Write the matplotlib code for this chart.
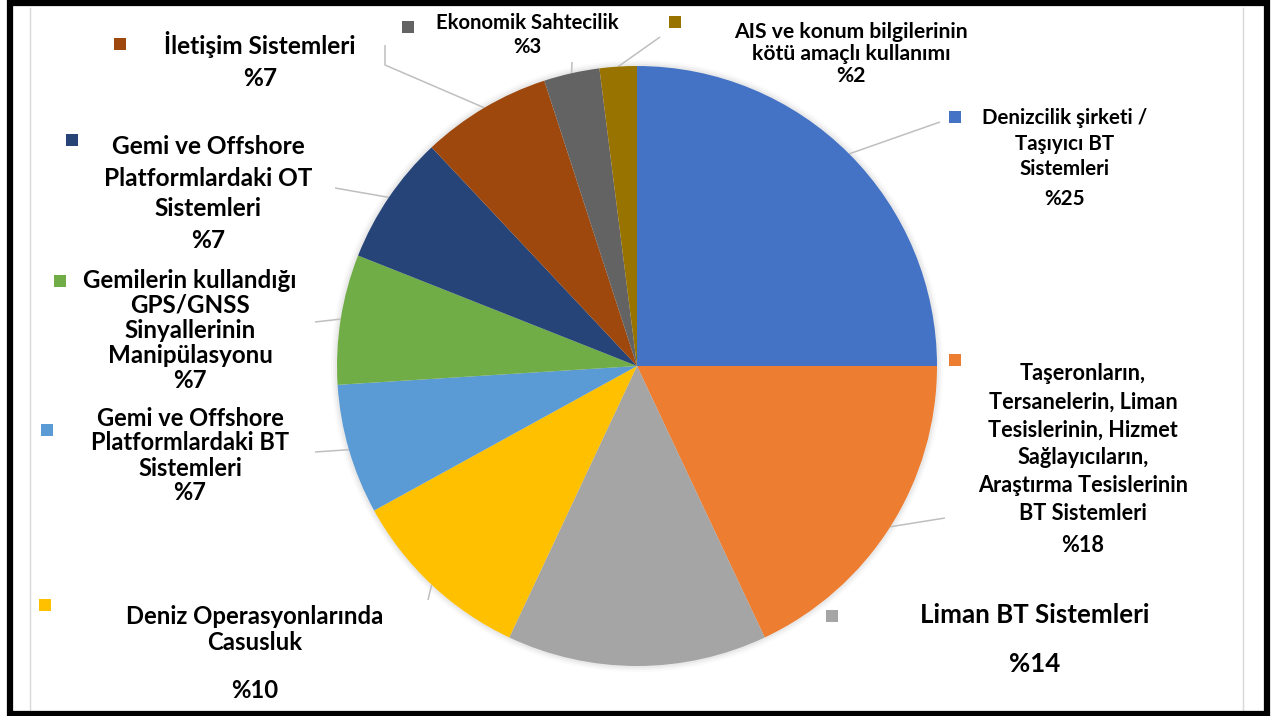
import numpy as np
import matplotlib
matplotlib.use("Agg")
import matplotlib.pyplot as plt
from matplotlib.patches import Rectangle, Circle

plt.rcParams["font.family"] = ["Lato", "DejaVu Sans"]

# slice data, clockwise from 12 o'clock
names = [
    "Denizcilik şirketi /\nTaşıyıcı BT\nSistemleri",
    "Taşeronların,\nTersanelerin, Liman\nTesislerinin, Hizmet\nSağlayıcıların,\nAraştırma Tesislerinin\nBT Sistemleri",
    "Liman BT Sistemleri",
    "Deniz Operasyonlarında\nCasusluk",
    "Gemi ve Offshore\nPlatformlardaki BT\nSistemleri",
    "Gemilerin kullandığı\nGPS/GNSS\nSinyallerinin\nManipülasyonu",
    "Gemi ve Offshore\nPlatformlardaki OT\nSistemleri",
    "İletişim Sistemleri",
    "Ekonomik Sahtecilik",
    "AIS ve konum bilgilerinin\nkötü amaçlı kullanımı",
]
values = [25, 18, 14, 10, 7, 7, 7, 7, 3, 2]
colors = ["#4472C4", "#ED7D31", "#A5A5A5", "#FFC000", "#5B9BD5",
          "#70AD47", "#264478", "#9E480E", "#636363", "#997300"]

# label layout in pixel coords: centre x, first line y, line step, percent y, font size
label_x = [1065, 1083, 1035, 255, 190, 190, 208, 260, 527, 851]
label_y0 = [118, 374, 615, 617, 418, 280, 147, 44, 23, 32]
label_step = [25.5, 28, 0, 25, 25, 25.3, 31, 0, 0, 22]
pct_y = [199, 545, 664, 690, 493, 381, 240, 78, 47, 76]
font_sz = [14.8, 15.6, 18.6, 17.2, 17, 17.4, 17.6, 17.6, 14.6, 15.2]
marker_xy = [(955, 117), (955, 360), (832, 616), (45, 605), (47, 430),
             (60, 281), (72, 140), (120, 44), (408, 27), (675, 22)]
# leader line ends (beyond the wedge edge point)
leader_pts = [
    [(940, 122)],
    [(945, 518)],
    None,
    [(428, 600)],
    [(315, 452)],
    [(315, 322)],
    [(335, 188)],
    [(385, 65), (385, 45)],
    [(572, 62)],
    [(660, 37)],
]

W, H = 1271, 716
cx, cy, R = 637, 366, 300

fig = plt.figure(figsize=(W / 100, H / 100), dpi=100)
ax = fig.add_axes([0, 0, 1, 1])

# soft edge around the pie
for dr, a in [(6, 0.04), (4, 0.06), (2, 0.08)]:
    ax.add_patch(Circle((cx, cy), R + dr, color="#808080", alpha=a, lw=0, zorder=1))

# y axis is inverted, so counterclock in data reads clockwise on screen
wedges, _ = ax.pie(values, colors=colors, startangle=-90, counterclock=True,
                   center=(cx, cy), radius=R, frame=True,
                   wedgeprops=dict(linewidth=0, zorder=2))
ax.set_xlim(0, W)
ax.set_ylim(H, 0)
ax.set_aspect("equal")
ax.axis("off")

for w, pts in zip(wedges, leader_pts):
    if pts is None:
        continue
    mid = np.deg2rad((w.theta1 + w.theta2) / 2)
    xs = [cx + R * np.cos(mid)] + [p[0] for p in pts]
    ys = [cy + R * np.sin(mid)] + [p[1] for p in pts]
    ax.plot(xs, ys, color="#BFBFBF", lw=1.1, zorder=1.5, solid_capstyle="butt")

for i, name in enumerate(names):
    lines = name.split("\n")
    for k, line in enumerate(lines):
        ax.text(label_x[i], label_y0[i] + k * label_step[i], line, ha="center", va="center",
                fontsize=font_sz[i], fontweight="bold", color="black", zorder=5)
    ax.text(label_x[i], pct_y[i], f"%{values[i]}", ha="center", va="center",
            fontsize=font_sz[i], fontweight="bold", color="black", zorder=5)
    mx, my = marker_xy[i]
    ax.add_patch(Rectangle((mx - 6, my - 6), 12, 12, color=colors[i], lw=0, zorder=5))

# chart area edges and outer frame
ax.plot([30, 30], [8, 711], color="#D9D9D9", lw=1, zorder=0.5)
ax.plot([1243, 1243], [8, 711], color="#D9D9D9", lw=1, zorder=0.5)
ax.add_patch(Rectangle((10, 3), 1257, 710.5, fill=False, ec="black", lw=4.5,
                       clip_on=False, zorder=10))

fig.savefig("out.png", dpi=100, facecolor="white")
